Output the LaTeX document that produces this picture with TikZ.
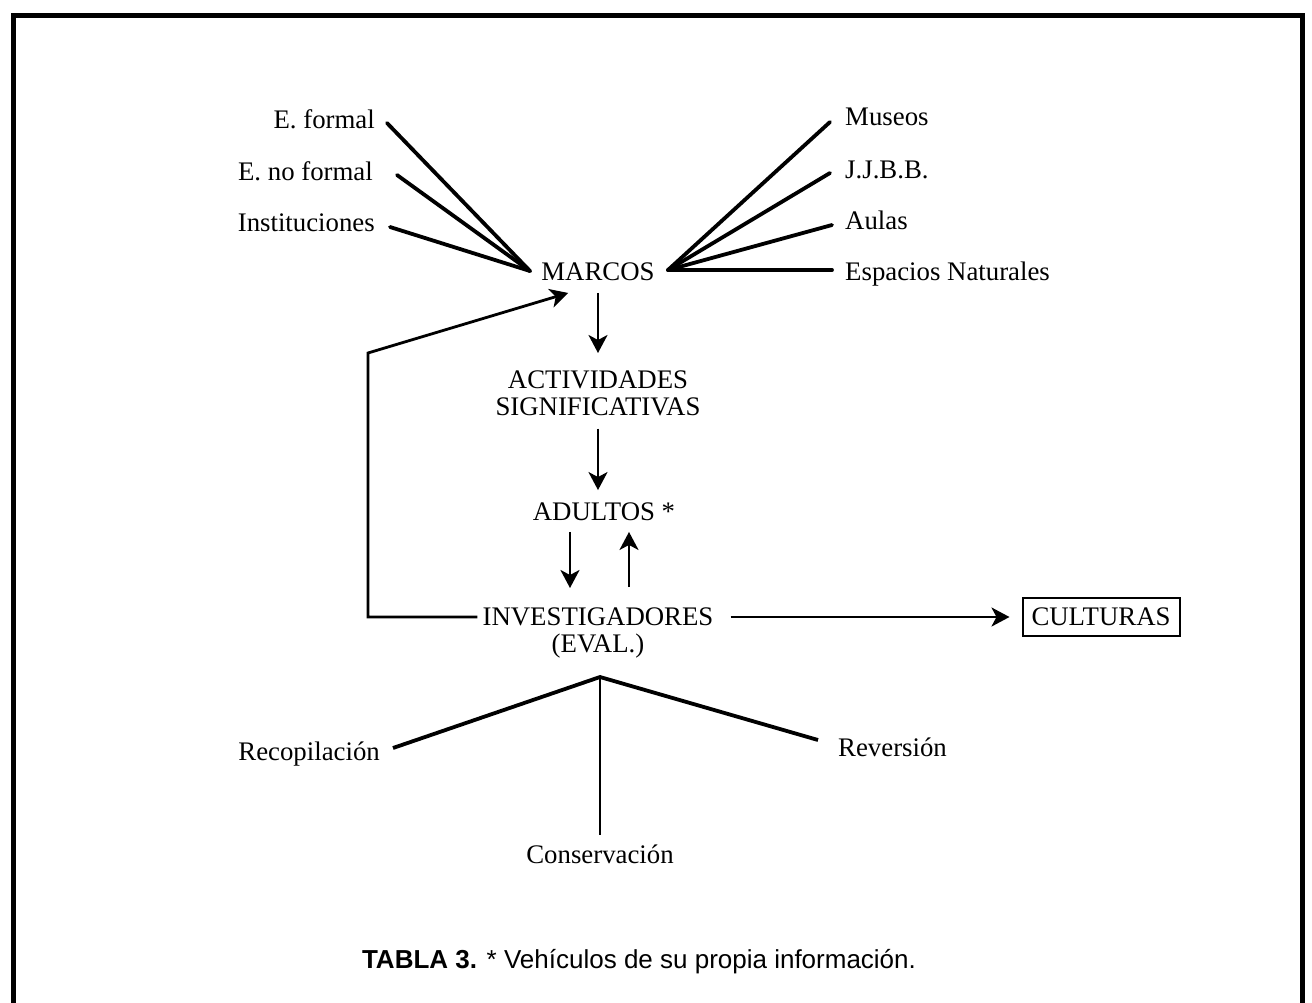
\documentclass[tikz,border=0pt]{standalone}
\usepackage{fontspec}
\setmainfont{Liberation Serif}
\newfontfamily\capfont{Liberation Sans}
\usetikzlibrary{arrows.meta}
\begin{document}
\begin{tikzpicture}[x=1pt,y=-1pt,
  lbl/.style={inner sep=0pt, font=\fontsize{26.8}{27}\selectfont, text height=17.5pt, text depth=0pt},
  mlbl/.style={inner sep=0pt, font=\fontsize{26.8}{27}\selectfont, align=center, anchor=north},
  fan/.style={line width=3.8pt, line cap=round},
  arr/.style={line width=2.6pt, -{Stealth[length=18pt,width=19pt,inset=5pt]}},
  thin/.style={line width=2pt}]
\useasboundingbox (0,0) rectangle (1312,1002);
% outer frame
\draw[line width=5pt] (13,15) rectangle (1302,1030);

% nodes
\node[lbl, anchor=east] (eformal) at (375,120) {E. formal};
\node[lbl, anchor=east] (enoformal) at (373,172) {E. no formal};
\node[lbl, anchor=east] (instit) at (375,223) {Instituciones};
\node[lbl] (marcos) at (598,272) {MARCOS};
\node[lbl, anchor=west] (museos) at (845,117) {Museos};
\node[lbl, anchor=west] (jjbb) at (845,170) {J.J.B.B.};
\node[lbl, anchor=west] (aulas) at (845,221) {Aulas};
\node[lbl, anchor=west] (espacios) at (845,272) {Espacios Naturales};
\node[mlbl] (activ) at (598,371) {ACTIVIDADES\\SIGNIFICATIVAS};
\node[lbl] (adultos) at (604,512) {ADULTOS *};
\node[mlbl] (invest) at (598,608) {INVESTIGADORES\\(EVAL.)};
\node[lbl, draw, line width=2pt, minimum width=157pt, minimum height=38pt] (culturas) at (1101,617) {CULTURAS};
\node[lbl, anchor=east] (recop) at (380,752) {Recopilación};
\node[lbl, anchor=west] (revers) at (838,748) {Reversión};
\node[lbl] (conserv) at (600,855) {Conservación};
\node[inner sep=0pt, font=\capfont\fontsize{26}{28}\selectfont] (caption) at (639,962) {\textbf{TABLA 3.} * Vehículos de su propia información.};

% junction points
\coordinate (mL) at (530,271);
\coordinate (mR) at (668,270);
\coordinate (fbc) at (368,353);
\coordinate (apex) at (600,677);

% left fan
\draw[fan] ([xshift=12pt,yshift=-3pt]eformal.east) -- (mL);
\draw[fan] ([xshift=24pt,yshift=-3pt]enoformal.east) -- (mL);
\draw[fan] ([xshift=15pt,yshift=-4pt]instit.east) -- (mL);
% right fan
\draw[fan] (mR) -- ([xshift=-15pt,yshift=-5pt]museos.west);
\draw[fan] (mR) -- ([xshift=-15pt,yshift=-3pt]jjbb.west);
\draw[fan] (mR) -- ([xshift=-13pt,yshift=-4pt]aulas.west);
\draw[fan] (mR) -- ([xshift=-13pt,yshift=2pt]espacios.west);

% main vertical arrows
\draw[arr] ([yshift=-12pt]marcos.south) -- ([yshift=18pt]activ.north);
\draw[arr] ([yshift=-12pt]activ.south) -- ([yshift=13pt,xshift=-6pt]adultos.north);
\draw[arr] ([xshift=-34pt,yshift=-11pt]adultos.south) -- ([xshift=-28pt,yshift=20pt]invest.north);
\draw[arr] ([xshift=31pt,yshift=21pt]invest.north) -- ([xshift=25pt,yshift=-11pt]adultos.south);

% feedback loop
\draw[arr, line width=2.8pt] ([xshift=-5pt,yshift=-9pt]invest.north west) -| (fbc) -- ([xshift=27pt,yshift=-12pt]marcos.south west);

% to CULTURAS
\draw[arr] ([xshift=17pt,yshift=-9pt]invest.north east) -- ([xshift=-12pt]culturas.west);

% bottom tree
\draw[fan, line cap=butt] ([xshift=13pt,yshift=4pt]recop.east) -- (apex) -- ([xshift=-20pt,yshift=8pt]revers.west);
\draw[thin] (apex) -- ([yshift=11pt]conserv.north);
\end{tikzpicture}
\end{document}
